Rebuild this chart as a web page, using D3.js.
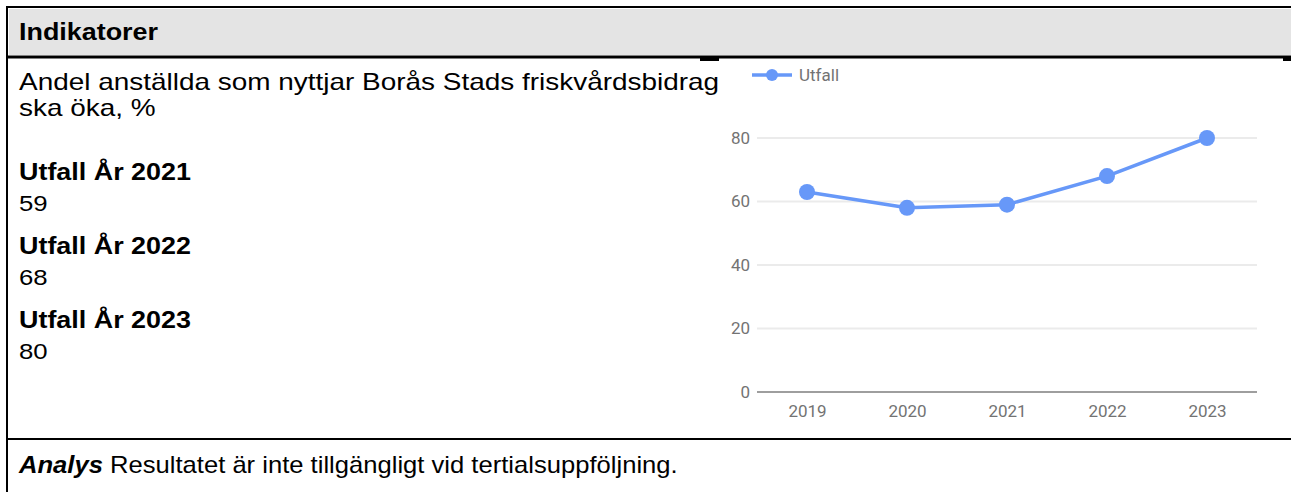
<!DOCTYPE html>
<html>
<head>
<meta charset="utf-8">
<script src="https://cdn.jsdelivr.net/npm/d3@7"></script>
<style>
  html, body { margin: 0; padding: 0; background: #fff; }
  svg { display: block; }
</style>
</head>
<body>
<svg id="page" width="1291" height="492"></svg>
<script>
// Indicator data
const years = ["2019", "2020", "2021", "2022", "2023"];
const utfall = [63, 58, 59, 68, 80];
const yTicks = [0, 20, 40, 60, 80];
const seriesName = "Utfall";

const headerTitle = "Indikatorer";
const indicatorLines = ["Andel anställda som nyttjar Borås Stads friskvårdsbidrag", "ska öka, %"];
const summaryYears = ["2021", "2022", "2023"];
const summaryValues = [59, 68, 80];
const analysLabel = "Analys";
const analysText = " Resultatet är inte tillgängligt vid tertialsuppföljning.";

const svg = d3.select("#page");
const W = 1291, H = 492;
const textFont = "'Liberation Sans', Arial, sans-serif";
const chartFont = "Roboto, sans-serif";

// Table frame
svg.append("rect").attr("x", 9).attr("y", 9).attr("width", W - 9).attr("height", 46).attr("fill", "#e4e4e4");
svg.append("line").attr("x1", 7).attr("x2", W).attr("y1", 7).attr("y2", 7).attr("stroke", "#000").attr("stroke-width", 2);
svg.append("line").attr("x1", 7).attr("x2", 7).attr("y1", 6).attr("y2", H).attr("stroke", "#000").attr("stroke-width", 2);
svg.append("line").attr("x1", 7).attr("x2", W).attr("y1", 57).attr("y2", 57).attr("stroke", "#000").attr("stroke-width", 3);
svg.append("rect").attr("x", 1283).attr("y", 57).attr("width", 8).attr("height", 4).attr("fill", "#000");
svg.append("rect").attr("x", 700).attr("y", 57).attr("width", 19).attr("height", 4).attr("fill", "#000");
svg.append("line").attr("x1", 7).attr("x2", W).attr("y1", 439).attr("y2", 439).attr("stroke", "#000").attr("stroke-width", 2);

// Text blocks use a slightly widened letterform
function wideText(parent, x, y, sx) {
  return parent.append("text")
    .attr("transform", `translate(${x},${y}) scale(${sx},1)`)
    .attr("font-family", textFont).attr("font-size", 23);
}

// Header
wideText(svg, 19, 40, 1.17).attr("font-weight", "bold").text(headerTitle);

// Indicator description
indicatorLines.forEach((t, i) => {
  wideText(svg, 19, 90 + i * 26, 1.215).text(t);
});

// Summary values
summaryYears.forEach((yr, i) => {
  const base = 180 + i * 74;
  wideText(svg, 19, base, 1.17).attr("font-weight", "bold").text("Utfall År " + yr);
  wideText(svg, 19, base + 31, 1.12).text(summaryValues[i]);
});

// Analysis row
const an = wideText(svg, 19, 473, 1.113);
an.append("tspan").attr("font-weight", "bold").attr("font-style", "italic").text(analysLabel);
an.append("tspan").text(analysText);

// Line chart
const chart = { left: 757, right: 1257, top: 138, bottom: 392 };
const x = d3.scalePoint().domain(years).range([chart.left, chart.right]).padding(0.5);
const y = d3.scaleLinear().domain([0, 80]).range([chart.bottom, chart.top]);
const g = svg.append("g");
const blue = "#6798f8";

// gridlines
g.selectAll("line.grid").data(yTicks.filter(d => d > 0)).join("line")
  .attr("class", "grid")
  .attr("x1", chart.left).attr("x2", chart.right)
  .attr("y1", d => y(d)).attr("y2", d => y(d))
  .attr("stroke", "#ebebeb").attr("stroke-width", 2);
g.append("line").attr("x1", chart.left).attr("x2", chart.right)
  .attr("y1", y(0)).attr("y2", y(0)).attr("stroke", "#9e9e9e").attr("stroke-width", 2);

// y axis labels
const yAxis = d3.axisLeft(y).tickValues(yTicks).tickSize(0).tickPadding(7);
const ya = g.append("g").attr("transform", `translate(${chart.left},0)`).call(yAxis);
ya.select(".domain").remove();
ya.selectAll("text").attr("font-family", chartFont).attr("font-size", 17).attr("fill", "#737373");

// x axis labels
const xAxis = d3.axisBottom(x).tickSize(0).tickPadding(13);
const xa = g.append("g").attr("transform", `translate(0,${chart.bottom})`).call(xAxis);
xa.select(".domain").remove();
xa.selectAll("text").attr("font-family", chartFont).attr("font-size", 17).attr("fill", "#737373");

// series line and markers
const pts = years.map((yr, i) => ({ yr, v: utfall[i] }));
g.append("path").datum(pts)
  .attr("d", d3.line().x(d => x(d.yr)).y(d => y(d.v)))
  .attr("fill", "none").attr("stroke", blue).attr("stroke-width", 3.5);
g.selectAll("circle.pt").data(pts).join("circle")
  .attr("class", "pt")
  .attr("cx", d => x(d.yr)).attr("cy", d => y(d.v)).attr("r", 8)
  .attr("fill", blue);

// legend
const lg = svg.append("g").attr("transform", "translate(752,75)");
lg.append("line").attr("x1", 0).attr("x2", 40).attr("y1", 0).attr("y2", 0)
  .attr("stroke", blue).attr("stroke-width", 3.5);
lg.append("circle").attr("cx", 20).attr("cy", 0).attr("r", 6).attr("fill", blue);
lg.append("text").attr("x", 47).attr("y", 6)
  .attr("font-family", chartFont).attr("font-size", 17).attr("fill", "#737373")
  .text(seriesName);
</script>
</body>
</html>
